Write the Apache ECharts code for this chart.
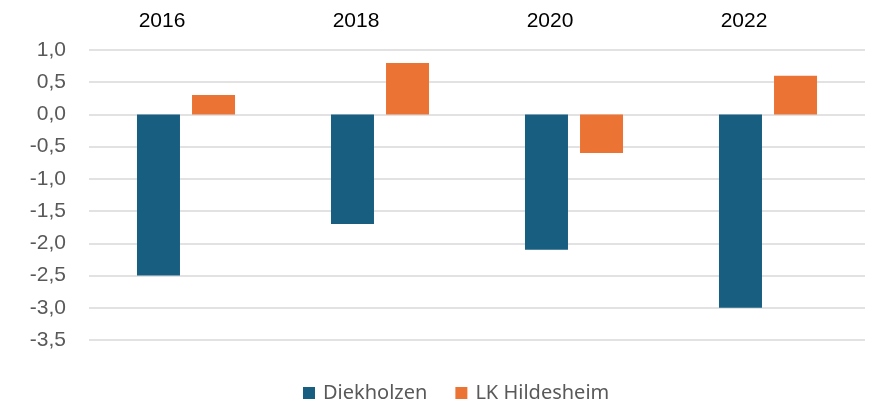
<!DOCTYPE html>
<html>
<head>
<meta charset="utf-8">
<script src="https://cdn.jsdelivr.net/npm/echarts@6/dist/echarts.min.js"></script>
<style>
    html, body { margin: 0; padding: 0; background: #fff; }
    #chart { width: 874px; height: 403px; }
</style>
</head>
<body>
<div id="chart"></div>
<script>
var years = ['2016', '2018', '2020', '2022'];
var diekholzen = [-2.5, -1.7, -2.1, -3.0];
var lkHildesheim = [0.3, 0.8, -0.6, 0.6];
var seriesNames = ['Diekholzen', 'LK Hildesheim'];

var chart = echarts.init(document.getElementById('chart'));

var option = {
    animation: false,
    color: ['#175e80', '#eb7434'],
    grid: {
        left: 89,
        right: 9,
        top: 50,
        bottom: 63,
        containLabel: false
    },
    legend: {
        data: seriesNames,
        bottom: -5,
        left: 298,
        itemWidth: 12,
        itemHeight: 12,
        itemGap: 28,
        icon: 'rect',
        textStyle: {
            fontFamily: 'Noto Sans',
            fontSize: 20,
            color: '#595959',
            padding: [0, 0, 0, 3]
        }
    },
    xAxis: {
        type: 'category',
        position: 'top',
        data: years,
        axisLine: {show: false},
        axisTick: {show: false},
        axisLabel: {
            margin: 18,
            fontFamily: 'Liberation Sans',
            fontSize: 21,
            color: '#000',
            // labels sit left of the category centre in the reference
            padding: [0, 48, 0, 0]
        }
    },
    yAxis: {
        type: 'value',
        min: -3.5,
        max: 1.0,
        interval: 0.5,
        axisLine: {show: false},
        axisTick: {show: false},
        splitLine: {lineStyle: {color: '#d9d9d9', width: 1.5}},
        axisLabel: {
            margin: 23,
            fontFamily: 'Liberation Sans',
            fontSize: 21,
            color: '#595959',
            formatter: function (v) {
                return v.toFixed(1).replace('.', ',');
            }
        }
    },
    series: [
        {
            name: seriesNames[0],
            type: 'bar',
            data: diekholzen,
            barWidth: 43,
            barGap: '28%'
        },
        {
            name: seriesNames[1],
            type: 'bar',
            data: lkHildesheim,
            barWidth: 43,
            barGap: '28%'
        }
    ]
};

chart.setOption(option);
</script>
</body>
</html>
